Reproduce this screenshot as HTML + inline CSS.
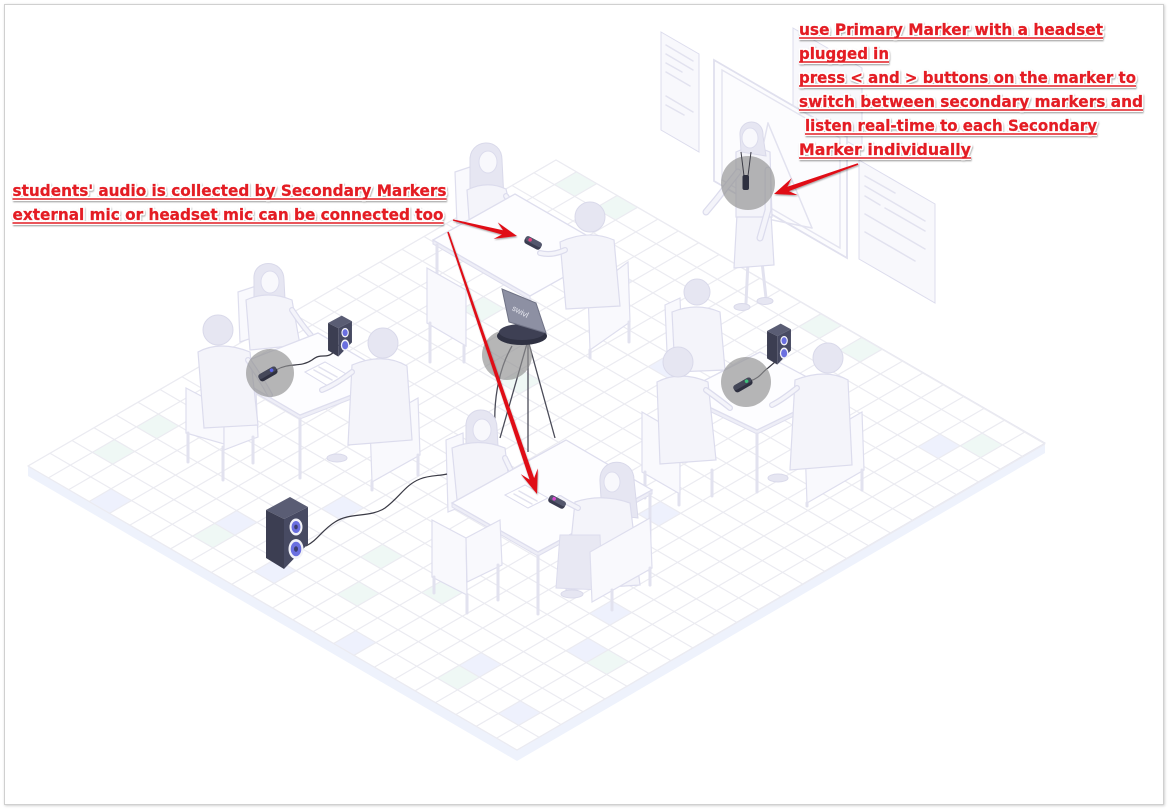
<!DOCTYPE html>
<html><head><meta charset="utf-8"><style>
html,body{margin:0;padding:0;background:#fff;}
svg{display:block;}
.p{fill:#f4f4fa;stroke:#dcdced;stroke-width:1.2}
.h{fill:#e6e6f2;stroke:#d9d9ea;stroke-width:1}
.fc{fill:#f8f8fc;stroke:#dcdced;stroke-width:1}
.f{fill:#f9f9fd;stroke:#dedeee;stroke-width:1.2}
.t{fill:#fdfdff;stroke:#dedeee;stroke-width:1.3}
.te{fill:#eeeef7;stroke:#dedeee;stroke-width:1}
.l{stroke:#e2e2ef;stroke-width:3;fill:none;stroke-linecap:round}
.ln{stroke:#e2e2ef;stroke-width:1.5;fill:none;stroke-linecap:round}
.gc{fill:#8f8f8f;opacity:.65}
.halo{font-family:"DejaVu Sans","Liberation Sans",sans-serif;font-weight:bold;font-size:16px;fill:#fff;stroke:#fff;stroke-width:3.6px;stroke-linejoin:round}
.txt{font-family:"DejaVu Sans","Liberation Sans",sans-serif;font-weight:bold;font-size:16px;fill:#e41d24;stroke:#e41d24;stroke-width:0.25px}
</style></head><body>
<svg width="1168" height="809" viewBox="0 0 1168 809" xmlns="http://www.w3.org/2000/svg">
<defs>
<filter id="sh" x="-10%" y="-20%" width="120%" height="150%"><feDropShadow dx="0.6" dy="1.2" stdDeviation="0.9" flood-color="#000" flood-opacity="0.35"/></filter>
<filter id="bsh" x="-2%" y="-2%" width="104%" height="104%"><feDropShadow dx="0.8" dy="0.8" stdDeviation="1.2" flood-color="#000" flood-opacity="0.2"/></filter>
</defs>
<rect x="0" y="0" width="1168" height="809" fill="#fff"/>
<rect x="4.5" y="4.5" width="1159" height="800" fill="#fff" stroke="#d0d0d0" stroke-width="1" filter="url(#bsh)"/>

<!-- FLOOR -->
<polygon points="28,466 517,750 1045,443 1045,453 517,761 28,476" fill="#eef2fc"/>
<polygon points="28,466 517,750 1045,443 556,160" fill="#fff" stroke="#e6e6f0" stroke-width="1"/>
<g transform="matrix(20.375,11.833,22,-12.75,28,466)">
<g fill="#eef1fd">
<rect x="10" y="1" width="1" height="1"/><rect x="19" y="2" width="1" height="1"/><rect x="22" y="1" width="1" height="1"/><rect x="21" y="5" width="1" height="1"/><rect x="20" y="7" width="1" height="1"/><rect x="21" y="21" width="1" height="1"/><rect x="3" y="0" width="1" height="1"/><rect x="7" y="2" width="1" height="1"/><rect x="9" y="5" width="1" height="1"/><rect x="15" y="0" width="1" height="1"/><rect x="5" y="10" width="1" height="1"/><rect x="11" y="18" width="1" height="1"/><rect x="17" y="12" width="1" height="1"/><rect x="6" y="20" width="1" height="1"/><rect x="14" y="15" width="1" height="1"/>
</g>
<g fill="#eff8f5">
<rect x="19" y="1" width="1" height="1"/><rect x="22" y="5" width="1" height="1"/><rect x="15" y="4" width="1" height="1"/><rect x="22" y="22" width="1" height="1"/><rect x="15" y="23" width="1" height="1"/><rect x="13" y="23" width="1" height="1"/><rect x="1" y="4" width="1" height="1"/><rect x="1" y="2" width="1" height="1"/><rect x="7" y="1" width="1" height="1"/><rect x="13" y="2" width="1" height="1"/><rect x="12" y="4" width="1" height="1"/><rect x="1" y="23" width="1" height="1"/><rect x="3" y="23" width="1" height="1"/><rect x="8" y="14" width="1" height="1"/><rect x="4" y="16" width="1" height="1"/><rect x="18" y="18" width="1" height="1"/><rect x="10" y="20" width="1" height="1"/>
</g>
<path d="M0 0V24M1 0V24M2 0V24M3 0V24M4 0V24M5 0V24M6 0V24M7 0V24M8 0V24M9 0V24M10 0V24M11 0V24M12 0V24M13 0V24M14 0V24M15 0V24M16 0V24M17 0V24M18 0V24M19 0V24M20 0V24M21 0V24M22 0V24M23 0V24M24 0V24M0 0H24M0 1H24M0 2H24M0 3H24M0 4H24M0 5H24M0 6H24M0 7H24M0 8H24M0 9H24M0 10H24M0 11H24M0 12H24M0 13H24M0 14H24M0 15H24M0 16H24M0 17H24M0 18H24M0 19H24M0 20H24M0 21H24M0 22H24M0 23H24M0 24H24" stroke="#ebebf1" stroke-width="1.2" fill="none" vector-effect="non-scaling-stroke"/>
</g>

<!-- BOARD & PAPERS -->
<polygon points="661,32 699,54 699,152 661,130" class="fc"/>
<g class="ln"><line x1="666" y1="45" x2="693" y2="61"/><line x1="666" y1="54" x2="693" y2="70"/><line x1="666" y1="63" x2="682" y2="72"/><line x1="666" y1="72" x2="690" y2="86"/><line x1="666" y1="96" x2="693" y2="112"/><line x1="666" y1="105" x2="684" y2="115"/></g>
<polygon points="793,28 862,68 862,150 793,110" class="fc"/>
<polygon points="714,60 847,137 847,258 714,181" fill="#fcfcfe" stroke="#e0e0ee" stroke-width="1.8"/>
<polygon points="722,70 840,138 840,248 722,180" fill="none" stroke="#e4e4f0" stroke-width="1.4"/>
<g class="ln" stroke-width="1"><line x1="768" y1="123" x2="748" y2="215"/><line x1="768" y1="123" x2="812" y2="228"/><line x1="748" y1="215" x2="812" y2="228"/></g>
<polygon points="859,160 935,204 935,303 859,259" class="fc"/>
<g class="ln"><line x1="865" y1="176" x2="895" y2="193"/><line x1="865" y1="186" x2="925" y2="221"/><line x1="865" y1="196" x2="880" y2="205"/><line x1="885" y1="208" x2="925" y2="231"/><line x1="865" y1="214" x2="925" y2="249"/><line x1="865" y1="232" x2="915" y2="261"/></g>

<!-- TEACHER -->
<g>
<path d="M748,262 L746,303 M762,262 L766,298" class="l" stroke-width="5"/>
<ellipse cx="742" cy="307" rx="8" ry="3.5" class="h"/><ellipse cx="765" cy="301" rx="8" ry="3.5" class="h"/>
<path d="M737,214 L771,214 L774,265 L734,268 Z" class="p"/>
<path d="M736,152 Q752,144 770,152 L772,217 L736,217 Z" class="p"/>
<path d="M738,172 L716,200 L706,212" stroke="#dcdced" stroke-width="7" fill="none" stroke-linecap="round"/>
<path d="M738,172 L716,200 L706,212" stroke="#f4f4fa" stroke-width="4.5" fill="none" stroke-linecap="round"/>
<path d="M768,170 L768,210 L760,238" stroke="#dcdced" stroke-width="7" fill="none" stroke-linecap="round"/>
<path d="M768,170 L768,210 L760,238" stroke="#f4f4fa" stroke-width="4.5" fill="none" stroke-linecap="round"/>
<path d="M740,135 C739,118 764,117 763,136 L766,156 L741,152 Z" class="h"/>
<ellipse cx="750" cy="138" rx="8" ry="10" class="fc"/>
</g>

<!-- TOP GROUP -->
<path d="M455,172 L473,166 L475,218 L457,224 Z" class="f"/>
<path d="M470,162 C468,138 502,136 502,160 L504,200 L470,200 Z" class="h"/>
<ellipse cx="488" cy="162" rx="9" ry="11" class="fc"/>
<path d="M467,190 Q487,180 506,189 L515,228 L470,232 Z" class="p"/>
<path d="M506,196 Q516,212 527,221" stroke="#dcdced" stroke-width="6" fill="none" stroke-linecap="round"/>
<path d="M506,196 Q516,212 527,221" stroke="#f4f4fa" stroke-width="3.5" fill="none" stroke-linecap="round"/>
<polygon points="433,240 530,296 530,300 433,244" class="te"/>
<polygon points="433,240 515,194 612,250 530,296" class="t"/>
<line x1="437" y1="245" x2="437" y2="278" class="l"/>
<line x1="530" y1="300" x2="530" y2="330" class="l"/>
<path d="M588,292 L628,262 L630,322 L590,350 Z" class="f"/>
<line x1="590" y1="350" x2="590" y2="358" class="l"/><line x1="629" y1="322" x2="629" y2="342" class="l"/>
<path d="M560,242 Q588,229 614,240 L620,306 L566,309 Z" class="p"/>
<path d="M565,250 Q552,256 540,253" stroke="#dcdced" stroke-width="6" fill="none" stroke-linecap="round"/>
<path d="M565,250 Q552,256 540,253" stroke="#f4f4fa" stroke-width="3.5" fill="none" stroke-linecap="round"/>
<circle cx="590" cy="217" r="15" class="h"/>
<path d="M427,268 L466,290 L466,346 L427,323 Z" class="f"/>
<line x1="430" y1="323" x2="430" y2="362" class="l"/><line x1="464" y1="346" x2="464" y2="362" class="l"/>

<!-- TRIPOD -->
<g stroke="#4a4b58" stroke-width="1.3" fill="none">
<line x1="528" y1="340" x2="500" y2="438"/>
<line x1="528" y1="340" x2="528" y2="452"/>
<line x1="528" y1="340" x2="555" y2="438"/>
<path d="M512,346 C498,370 492,405 496,440"/>
</g>
<circle cx="507" cy="355" r="25" class="gc"/>
<ellipse cx="522" cy="336" rx="25" ry="9" fill="#2f3142"/>
<ellipse cx="522" cy="332" rx="23" ry="8" fill="#3e4054"/>
<polygon points="502,289 536,303 546,333 509,322" fill="#8d90a3" stroke="#6f7285" stroke-width="1"/>
<text x="512" y="314" transform="rotate(28 520 311)" font-family="Liberation Sans, sans-serif" font-size="8" fill="#e6e7ef">swivl</text>

<!-- LEFT GROUP -->
<path d="M238,292 L256,286 L258,336 L240,342 Z" class="f"/>
<path d="M254,280 C252,258 284,258 284,280 L285,300 L254,300 Z" class="h"/>
<ellipse cx="270" cy="282" rx="9" ry="11" class="fc"/>
<path d="M246,300 Q268,290 292,300 L300,345 L250,350 Z" class="p"/>
<path d="M292,310 Q305,330 318,343" stroke="#dcdced" stroke-width="6" fill="none" stroke-linecap="round"/>
<path d="M292,310 Q305,330 318,343" stroke="#f4f4fa" stroke-width="3.5" fill="none" stroke-linecap="round"/>
<polygon points="223,370 300,415 395,378 395,382 300,419 223,374" class="te"/>
<polygon points="223,370 318,333 395,378 300,415" class="t"/>
<line x1="300" y1="419" x2="300" y2="478" class="l"/>
<line x1="393" y1="382" x2="393" y2="440" class="l"/>
<polygon points="305,372 325,362 348,375 328,386" fill="#fff" stroke="#dcdced" stroke-width="1"/>
<g class="ln" stroke-width="1"><line x1="314" y1="370" x2="332" y2="380"/><line x1="319" y1="367" x2="337" y2="377"/></g>
<path d="M186,388 L224,408 L224,444 L186,433 Z" class="f"/>
<path d="M224,408 L256,392 L258,437 L224,450 Z" class="f"/>
<line x1="188" y1="433" x2="188" y2="462" class="l"/><line x1="223" y1="447" x2="223" y2="480" class="l"/><line x1="253" y1="437" x2="253" y2="463" class="l"/>
<path d="M198,352 Q220,340 250,352 L258,425 L204,428 Z" class="p"/>
<path d="M248,360 Q262,380 270,395" stroke="#dcdced" stroke-width="6" fill="none" stroke-linecap="round"/>
<path d="M248,360 Q262,380 270,395" stroke="#f4f4fa" stroke-width="3.5" fill="none" stroke-linecap="round"/>
<circle cx="218" cy="330" r="15" class="h"/>
<path d="M370,425 L418,398 L420,455 L372,482 Z" class="f"/>
<line x1="372" y1="482" x2="372" y2="490" class="l"/><line x1="418" y1="455" x2="418" y2="475" class="l"/>
<path d="M352,365 Q383,352 407,366 L412,440 L348,445 Z" class="p"/>
<ellipse cx="337" cy="458" rx="10" ry="4" class="h"/>
<path d="M352,372 Q335,385 322,390" stroke="#dcdced" stroke-width="6" fill="none" stroke-linecap="round"/>
<path d="M352,372 Q335,385 322,390" stroke="#f4f4fa" stroke-width="3.5" fill="none" stroke-linecap="round"/>
<circle cx="383" cy="343" r="15" class="h"/>

<!-- RIGHT GROUP -->
<path d="M665,305 L680,298 L682,345 L667,352 Z" class="f"/>
<path d="M672,312 Q697,302 720,312 L725,370 L675,372 Z" class="p"/>
<circle cx="697" cy="292" r="13" class="h"/>
<polygon points="680,393 757,430 835,392 835,396 757,434 680,397" class="te"/>
<polygon points="680,393 760,352 835,392 757,430" class="t"/>
<line x1="757" y1="434" x2="757" y2="492" class="l"/>
<line x1="833" y1="396" x2="833" y2="440" class="l"/>
<path d="M642,412 L680,434 L680,494 L642,472 Z" class="f"/>
<line x1="645" y1="472" x2="645" y2="498" class="l"/><line x1="679" y1="494" x2="679" y2="505" class="l"/><line x1="712" y1="470" x2="712" y2="496" class="l"/>
<path d="M657,382 Q680,370 708,382 L716,460 L660,464 Z" class="p"/>
<path d="M706,390 Q720,400 730,408" stroke="#dcdced" stroke-width="6" fill="none" stroke-linecap="round"/>
<path d="M706,390 Q720,400 730,408" stroke="#f4f4fa" stroke-width="3.5" fill="none" stroke-linecap="round"/>
<circle cx="678" cy="362" r="15" class="h"/>
<path d="M805,445 L862,412 L864,470 L807,503 Z" class="f"/>
<line x1="807" y1="503" x2="807" y2="506" class="l"/><line x1="862" y1="470" x2="862" y2="490" class="l"/>
<path d="M795,380 Q826,368 848,380 L852,465 L790,470 Z" class="p"/>
<ellipse cx="778" cy="478" rx="10" ry="4" class="h"/>
<path d="M797,388 Q782,400 772,405" stroke="#dcdced" stroke-width="6" fill="none" stroke-linecap="round"/>
<path d="M797,388 Q782,400 772,405" stroke="#f4f4fa" stroke-width="3.5" fill="none" stroke-linecap="round"/>
<circle cx="828" cy="358" r="15" class="h"/>

<!-- BOTTOM GROUP -->
<path d="M446,440 L463,433 L465,505 L448,512 Z" class="f"/>
<path d="M466,428 C464,404 497,404 497,428 L498,446 L466,446 Z" class="h"/>
<ellipse cx="482" cy="430" rx="9" ry="11" class="fc"/>
<path d="M452,448 Q478,437 505,448 L512,505 L458,510 Z" class="p"/>
<path d="M505,458 Q515,480 525,494" stroke="#dcdced" stroke-width="6" fill="none" stroke-linecap="round"/>
<path d="M505,458 Q515,480 525,494" stroke="#f4f4fa" stroke-width="3.5" fill="none" stroke-linecap="round"/>
<polygon points="452,503 538,552 652,490 652,494 538,556 452,507" class="te"/>
<polygon points="452,503 566,440 652,490 538,552" class="t"/>
<line x1="538" y1="556" x2="538" y2="614" class="l"/>
<line x1="650" y1="494" x2="650" y2="585" class="l"/>
<polygon points="505,495 525,485 548,498 528,508" fill="#fff" stroke="#dcdced" stroke-width="1"/>
<g class="ln" stroke-width="1"><line x1="514" y1="494" x2="532" y2="504"/><line x1="519" y1="491" x2="537" y2="501"/></g>
<path d="M600,482 C598,456 634,456 634,480 L638,518 L602,514 Z" class="h"/>
<ellipse cx="612" cy="482" rx="8" ry="10" class="fc"/>
<path d="M575,502 Q602,493 630,503 L640,585 L566,590 Z" class="p"/>
<path d="M560,535 L600,535 L602,590 L556,588 Z" fill="#e8e8f3" stroke="#dcdced" stroke-width="1"/>
<ellipse cx="572" cy="594" rx="11" ry="4" class="h"/>
<path d="M578,508 Q566,502 560,498" stroke="#dcdced" stroke-width="6" fill="none" stroke-linecap="round"/>
<path d="M578,508 Q566,502 560,498" stroke="#f4f4fa" stroke-width="3.5" fill="none" stroke-linecap="round"/>
<path d="M590,552 L650,518 L652,568 L592,602 Z" class="f"/>
<line x1="612" y1="590" x2="612" y2="610" class="l"/><line x1="650" y1="568" x2="650" y2="585" class="l"/>
<path d="M432,520 L466,538 L467,595 L432,577 Z" class="f"/>
<path d="M466,538 L500,520 L502,565 L467,582 Z" class="f"/>
<line x1="434" y1="577" x2="434" y2="593" class="l"/><line x1="467" y1="595" x2="467" y2="613" class="l"/><line x1="498" y1="565" x2="498" y2="600" class="l"/>

<!-- CABLES -->
<path d="M306,546 C318,540 322,530 335,522 C350,512 370,518 385,508 C400,497 405,485 420,479 C430,475 440,476 447,474" stroke="#3a3a45" stroke-width="1.2" fill="none"/>
<path d="M276,370 C290,362 300,368 312,360 C322,352 325,360 334,352 L338,345" stroke="#3a3a45" stroke-width="1.2" fill="none"/>
<path d="M750,381 C760,378 762,372 768,368 L775,362" stroke="#3a3a45" stroke-width="1.2" fill="none"/>

<!-- SPEAKERS -->
<g>
<polygon points="266,510 290,497 308,507 284,519" fill="#5a5d74"/>
<polygon points="266,510 284,519 284,569 266,558" fill="#3c3e52"/>
<polygon points="284,519 308,507 308,544 284,569" fill="#474a62"/>
<ellipse cx="296" cy="527" rx="6.5" ry="8.5" fill="#f2f2f8"/>
<ellipse cx="296" cy="527" rx="4.5" ry="6" fill="#6a6fe0"/>
<ellipse cx="296" cy="527" rx="1.8" ry="2.4" fill="#3c3e70"/>
<ellipse cx="296" cy="549" rx="7.5" ry="10" fill="#f2f2f8"/>
<ellipse cx="296" cy="549" rx="5.3" ry="7.2" fill="#6a6fe0"/>
<ellipse cx="296" cy="549" rx="2" ry="2.8" fill="#3c3e70"/>
</g>
<g transform="translate(176.4,32.3) scale(0.57)">
<polygon points="266,510 290,497 308,507 284,519" fill="#5a5d74"/>
<polygon points="266,510 284,519 284,569 266,558" fill="#3c3e52"/>
<polygon points="284,519 308,507 308,544 284,569" fill="#474a62"/>
<ellipse cx="296" cy="527" rx="6.5" ry="8.5" fill="#f2f2f8"/><ellipse cx="296" cy="527" rx="4.5" ry="6" fill="#6a6fe0"/>
<ellipse cx="296" cy="549" rx="7.5" ry="10" fill="#f2f2f8"/><ellipse cx="296" cy="549" rx="5.3" ry="7.2" fill="#6a6fe0"/>
</g>
<g transform="translate(615.4,40.3) scale(0.57)">
<polygon points="266,510 290,497 308,507 284,519" fill="#5a5d74"/>
<polygon points="266,510 284,519 284,569 266,558" fill="#3c3e52"/>
<polygon points="284,519 308,507 308,544 284,569" fill="#474a62"/>
<ellipse cx="296" cy="527" rx="6.5" ry="8.5" fill="#f2f2f8"/><ellipse cx="296" cy="527" rx="4.5" ry="6" fill="#6a6fe0"/>
<ellipse cx="296" cy="549" rx="7.5" ry="10" fill="#f2f2f8"/><ellipse cx="296" cy="549" rx="5.3" ry="7.2" fill="#6a6fe0"/>
</g>

<!-- GRAY CIRCLES -->
<circle cx="270" cy="373" r="24" class="gc"/>
<circle cx="746" cy="382" r="25" class="gc"/>
<circle cx="748" cy="183" r="27" class="gc"/>

<!-- MARKERS -->
<g transform="translate(533,243) rotate(28)"><rect x="-9" y="-4" width="18" height="8" rx="3" fill="#3a3c50"/><rect x="-9" y="-4" width="18" height="5" rx="2.5" fill="#54576d"/><circle cx="-4" cy="-1.5" r="1.8" fill="#e0457e"/></g>
<g transform="translate(557,502) rotate(28)"><rect x="-9" y="-4" width="18" height="8" rx="3" fill="#3a3c50"/><rect x="-9" y="-4" width="18" height="5" rx="2.5" fill="#54576d"/><circle cx="-4" cy="-1.5" r="1.8" fill="#d84ad0"/></g>
<g transform="translate(268,374) rotate(-30)"><rect x="-10" y="-4" width="20" height="8" rx="3" fill="#2e3040"/><rect x="-10" y="-4" width="20" height="5" rx="2.5" fill="#454859"/><circle cx="5" cy="-1.5" r="1.8" fill="#5a62e8"/></g>
<g transform="translate(743,385) rotate(-30)"><rect x="-10" y="-4" width="20" height="8" rx="3" fill="#2e3040"/><rect x="-10" y="-4" width="20" height="5" rx="2.5" fill="#454859"/><circle cx="5" cy="-1.5" r="1.8" fill="#3ec07a"/></g>
<path d="M741,152 L744,176 M751,152 L748,176" stroke="#3a3a45" stroke-width="1" fill="none"/>
<rect x="742.5" y="175" width="6.5" height="15" rx="2" fill="#2e3040"/>

<!-- ARROWS -->
<g fill="#e00b17" filter="url(#sh)">
<polygon points="453.17,219.32 502.98,230.23 497.72,222.42 517,236 493.60,238.90 501.92,234.49 452.83,220.68"/>
<polygon points="448.76,231.74 534.12,478.08 537.80,468.38 537,494 520.76,474.16 529.58,479.62 447.24,232.26"/>
<polygon points="858.27,164.75 788.90,191.13 797.75,195.08 774,194 791.69,178.12 787.36,186.79 857.73,163.25"/>
</g>

<!-- TEXT -->
<g filter="url(#sh)">
<g stroke="#fff" stroke-width="4" stroke-linecap="butt">
<line x1="12.5" y1="199" x2="446.5" y2="199"/><line x1="12.5" y1="223" x2="443.5" y2="223"/>
<line x1="799" y1="38" x2="1103" y2="38"/><line x1="799" y1="62" x2="889" y2="62"/><line x1="799" y1="86" x2="1136" y2="86"/><line x1="799" y1="110" x2="1143" y2="110"/><line x1="805" y1="134" x2="1097" y2="134"/><line x1="799" y1="158" x2="971" y2="158"/>
</g>
<g class="halo">
<text x="12.5" y="196" textLength="434" lengthAdjust="spacingAndGlyphs">students' audio is collected by Secondary Markers</text>
<text x="12.5" y="220" textLength="431" lengthAdjust="spacingAndGlyphs">external mic or headset mic can be connected too</text>
<text x="799" y="35" textLength="304" lengthAdjust="spacingAndGlyphs">use Primary Marker with a headset</text>
<text x="799" y="59" textLength="90" lengthAdjust="spacingAndGlyphs">plugged in</text>
<text x="799" y="83" textLength="337" lengthAdjust="spacingAndGlyphs">press &lt; and &gt; buttons on the marker to</text>
<text x="799" y="107" textLength="344" lengthAdjust="spacingAndGlyphs">switch between secondary markers and</text>
<text x="805" y="131" textLength="292" lengthAdjust="spacingAndGlyphs">listen real-time to each Secondary</text>
<text x="799" y="155" textLength="172" lengthAdjust="spacingAndGlyphs">Marker individually</text>
</g>
</g>
<g stroke="#e41d24" stroke-width="1.6">
<line x1="12.5" y1="199" x2="446.5" y2="199"/><line x1="12.5" y1="223" x2="443.5" y2="223"/>
<line x1="799" y1="38" x2="1103" y2="38"/><line x1="799" y1="62" x2="889" y2="62"/><line x1="799" y1="86" x2="1136" y2="86"/><line x1="799" y1="110" x2="1143" y2="110"/><line x1="805" y1="134" x2="1097" y2="134"/><line x1="799" y1="158" x2="971" y2="158"/>
</g>
<g class="txt">
<text x="12.5" y="196" textLength="434" lengthAdjust="spacingAndGlyphs">students' audio is collected by Secondary Markers</text>
<text x="12.5" y="220" textLength="431" lengthAdjust="spacingAndGlyphs">external mic or headset mic can be connected too</text>
<text x="799" y="35" textLength="304" lengthAdjust="spacingAndGlyphs">use Primary Marker with a headset</text>
<text x="799" y="59" textLength="90" lengthAdjust="spacingAndGlyphs">plugged in</text>
<text x="799" y="83" textLength="337" lengthAdjust="spacingAndGlyphs">press &lt; and &gt; buttons on the marker to</text>
<text x="799" y="107" textLength="344" lengthAdjust="spacingAndGlyphs">switch between secondary markers and</text>
<text x="805" y="131" textLength="292" lengthAdjust="spacingAndGlyphs">listen real-time to each Secondary</text>
<text x="799" y="155" textLength="172" lengthAdjust="spacingAndGlyphs">Marker individually</text>
</g>
</svg>
</body></html>
